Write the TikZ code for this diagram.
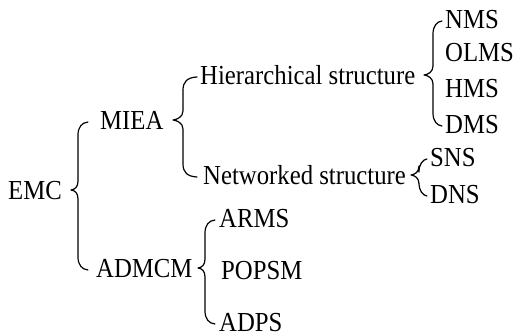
\documentclass[tikz,border=0pt]{standalone}
\usepackage{fontspec}
\setmainfont[FakeStretch=0.90]{Liberation Serif}
\usetikzlibrary{calc}
\tikzset{
  lbl/.style={anchor=west, inner sep=0pt, font=\fontsize{27.5}{29}\selectfont, text height=18.2pt, text depth=0pt},
  brace/.style={line width=1.2pt, line cap=round, line join=round}
}
% #1 parent, #2 first child, #3 last child, #4 tip x, #5 vertical x, #6 hook-end x
\newcommand\curly[6]{%
  \draw[brace] let \p1=(#1.west), \p2=(#2.west), \p3=(#3.west) in
   (#6pt,{\y2-2pt}) .. controls ({#5pt+4pt},{\y2-2.5pt}) and (#5pt,{\y2-7pt}) .. (#5pt,{\y2-15pt})
   -- (#5pt,{\y1+9pt}) .. controls (#5pt,{\y1+3pt}) and ({#4pt+4pt},{\y1+0.5pt}) .. (#4pt,{\y1})
   .. controls ({#4pt+4pt},{\y1-0.5pt}) and (#5pt,{\y1-3pt}) .. (#5pt,{\y1-9pt})
   -- (#5pt,{\y3+11pt}) .. controls (#5pt,{\y3+3pt}) and ({#5pt+4pt},{\y3-1.5pt}) .. (#6pt,{\y3-2pt});
}
\begin{document}
\begin{tikzpicture}[x=1pt,y=-1pt]
\useasboundingbox (0,0) rectangle (523,336);
\node[lbl] (emc) at (8,190) {EMC};
\node[lbl] (miea) at (100,120) {MIEA};
\node[lbl] (admcm) at (96,268) {ADMCM};
\node[lbl] (hier) at (200,75) {Hierarchical structure};
\node[lbl] (net) at (203,175) {Networked structure};
\node[lbl] (nms) at (445,19) {NMS};
\node[lbl] (olms) at (445,52) {OLMS};
\node[lbl] (hms) at (445,88) {HMS};
\node[lbl] (dms) at (445,124) {DMS};
\node[lbl] (sns) at (430,157) {SNS};
\node[lbl] (dns) at (430,194) {DNS};
\node[lbl] (arms) at (219,218) {ARMS};
\node[lbl] (popsm) at (221,270) {POPSM};
\node[lbl] (adps) at (219,322) {ADPS};
\curly{emc}{miea}{admcm}{71}{78}{88}
\curly{miea}{hier}{net}{173}{183}{197}
\curly{hier}{nms}{dms}{424}{433}{442}
\curly{net}{sns}{dns}{411}{419}{427}
\curly{admcm}{arms}{adps}{198}{205}{215}
\end{tikzpicture}
\end{document}
